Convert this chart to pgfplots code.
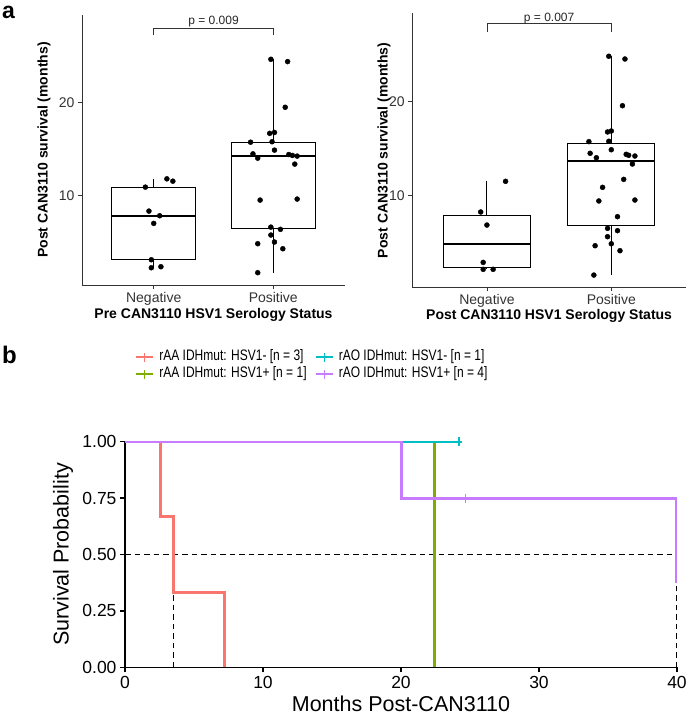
\documentclass[border=0pt]{standalone}
\usepackage{fontspec}
\setmainfont{Liberation Sans}
\newfontfamily\narrowsans[FakeStretch=0.79]{Liberation Sans}
\usepackage{pgfplots}
\pgfplotsset{compat=1.18}
\usepgfplotslibrary{statistics}

\definecolor{kmred}{HTML}{F8766D}
\definecolor{kmgreen}{HTML}{7CAE00}
\definecolor{kmcyan}{HTML}{00BFC4}
\definecolor{kmpurple}{HTML}{C77CFF}
\newcommand{\fs}[1]{\fontsize{#1}{#1}\selectfont}

\pgfplotsset{
  boxpanel/.style={
    scale only axis, clip=false,
    xmin=0.4, xmax=2.6,
    xtick={1,2}, xticklabels={Negative,Positive},
    ytick={10,20},
    axis x line*=bottom, axis y line*=left,
    axis line style={black!80, line width=0.8pt, -},
    tick style={black!80, line width=0.8pt},
    tick align=outside, major tick length=4pt,
    ticklabel style={font=\fs{14}, text=black!80},
    /pgf/number format/assume math mode=true,
    label style={font=\bfseries\fs{14}},
    xlabel style={anchor=base},
    ylabel style={anchor=center},
  },
  gbox/.style={black, line width=0.9pt, fill=white,
    boxplot prepared={#1, draw direction=y, box extend=0.7, whisker extend=0,
      every median/.style={line width=2.2pt}}},
  jit/.style={only marks, mark=*, mark size=2.5pt, black},
  med/.style={forget plot, black, line width=1.2pt, dash pattern=on 5.5pt off 4pt},
  km/.style={forget plot, const plot, line width=3pt},
  cens/.style={forget plot, only marks, mark=|, mark size=4.5pt, mark options={line width=1.3pt}},
}

\begin{document}
\begin{tikzpicture}
\useasboundingbox (0,0) rectangle (690pt,716pt);

% panel labels
\node[anchor=base west, inner sep=0pt, font=\bfseries\fs{23}] at (2pt,697.7pt) {a};
\node[anchor=base west, inner sep=0pt, font=\bfseries\fs{24}] at (2pt,352pt) {b};

% ---- a, left
\begin{axis}[boxpanel,
  at={(82pt,431pt)}, anchor=south west, width=263pt, height=270pt,
  ymin=0.43, ymax=29.4,
  xlabel={Pre CAN3110 HSV1 Serology Status},
  ylabel={Post CAN3110 survival (months)},
  xlabel style={at={(axis description cs:0.5,-0.123)}},
  ylabel style={at={(axis description cs:-0.1445,0.5)}},
]
\addplot[gbox={draw position=1, lower whisker=2.28, lower quartile=3.14,
  median=7.86, upper quartile=10.93, upper whisker=11.82}] coordinates {};
\addplot[gbox={draw position=2, lower whisker=1.75, lower quartile=6.54,
  median=14.26, upper quartile=15.75, upper whisker=24.65}] coordinates {};
\addplot[jit] coordinates {
  (0.93,10.93) (0.96,8.36) (1.05,7.86) (1.00,7.04) (1.11,11.82)
  (1.16,11.57) (0.98,3.14) (0.98,2.28) (1.06,2.39)};
\addplot[jit] coordinates {
  (1.98,24.65) (2.12,24.40) (2.10,19.50) (1.97,16.70) (2.01,16.80)
  (1.81,15.75) (1.99,15.80) (1.83,14.50) (1.87,14.04) (2.01,14.90)
  (2.13,14.43) (2.16,14.33) (2.20,14.26) (2.18,13.40) (1.89,9.54)
  (2.20,9.65) (1.98,6.64) (2.06,6.40) (1.98,5.79) (1.87,4.86)
  (2.01,5.04) (2.08,4.32) (1.87,1.75)};
\addplot[black!80, line width=0.7pt] coordinates {(1,27.3) (1,28.0) (2,28.0) (2,27.3)};
\node[anchor=base, inner sep=0pt, font=\fs{12}, text=black!85] at (axis cs:1.5,28.4) {p = 0.009};
\end{axis}

% ---- a, right
\begin{axis}[boxpanel,
  at={(412.3pt,428.7pt)}, anchor=south west, width=273.6pt, height=274pt,
  ymin=0.26, ymax=29.4,
  xlabel={Post CAN3110 HSV1 Serology Status},
  ylabel={Post CAN3110 survival (months)},
  xlabel style={at={(axis description cs:0.5,-0.119)}},
  ylabel style={at={(axis description cs:-0.103,0.5)}},
]
\addplot[gbox={draw position=1, lower whisker=2.17, lower quartile=2.38,
  median=4.89, upper quartile=7.91, upper whisker=11.53}] coordinates {};
\addplot[gbox={draw position=2, lower whisker=1.56, lower quartile=6.85,
  median=13.69, upper quartile=15.53, upper whisker=24.83}] coordinates {};
\addplot[jit] coordinates {
  (1.15,11.53) (0.95,8.27) (1.00,6.88) (0.97,2.91) (0.97,2.17) (1.05,2.17)};
\addplot[jit] coordinates {
  (1.98,24.83) (2.11,24.54) (2.09,19.57) (1.97,16.78) (2.00,16.88)
  (1.82,15.75) (1.98,15.79) (1.83,14.51) (1.88,14.04) (2.00,14.89)
  (2.12,14.40) (2.14,14.30) (2.19,14.22) (2.17,13.37) (2.10,11.74)
  (1.93,10.89) (1.90,9.44) (2.19,9.54) (2.05,7.77) (1.97,6.53)
  (2.05,6.28) (1.97,5.64) (1.87,4.68) (2.00,4.89) (2.07,4.15) (1.86,1.56)};
\addplot[black!80, line width=0.7pt] coordinates {(1,27.4) (1,28.3) (2,28.3) (2,27.4)};
\node[anchor=base, inner sep=0pt, font=\fs{12}, text=black!85] at (axis cs:1.5,28.55) {p = 0.007};
\end{axis}

% ---- b, Kaplan-Meier
\begin{axis}[
  scale only axis,
  at={(125pt,48.7pt)}, anchor=south west, width=552pt, height=225.6pt,
  xmin=0, xmax=40, ymin=0, ymax=1,
  xtick={0,10,20,30,40}, ytick={0,0.25,0.5,0.75,1},
  axis x line*=bottom, axis y line*=left,
  axis line style={black, line width=1.6pt, -},
  tick style={black, line width=1.4pt},
  tick align=outside, major tick length=5pt,
  ticklabel style={font=\fs{17.5}},
  /pgf/number format/assume math mode=true,
  yticklabel style={/pgf/number format/.cd, fixed, fixed zerofill, precision=2},
  label style={font=\fs{21.5}},
  xlabel={Months Post-CAN3110}, ylabel={Survival Probability},
  xlabel style={anchor=base, at={(axis description cs:0.5,-0.197)}},
  ylabel style={anchor=center, at={(axis description cs:-0.1123,0.5)}},
  legend columns=2,
  legend cell align=left,
  legend image code/.code={
    \draw[#1, line width=2.2pt] (0pt,0pt) -- (17pt,0pt);
    \draw[#1, line width=1.3pt] (8.5pt,-4.5pt) -- (8.5pt,4.5pt);},
  legend style={draw=none, fill=none, inner sep=0pt,
    at={(axis description cs:0.018,1.413)}, anchor=north west,
    font=\narrowsans\fs{15.2}, row sep=0pt,
    nodes={inner xsep=5pt, inner ysep=1.25pt, text height=11pt, text depth=3.5pt},
    /tikz/every even column/.append style={column sep=3pt}},
]
\addlegendimage{kmred}\addlegendentry{rAA IDHmut: HSV1- [n = 3]}
\addlegendimage{kmcyan}\addlegendentry{rAO IDHmut: HSV1- [n = 1]}
\addlegendimage{kmgreen}\addlegendentry{rAA IDHmut: HSV1+ [n = 1]}
\addlegendimage{kmpurple}\addlegendentry{rAO IDHmut: HSV1+ [n = 4]}

% median lines
\addplot[med] coordinates {(0,0.5) (40,0.5)};
\addplot[med] coordinates {(3.53,0) (3.53,0.5)};
\addplot[med] coordinates {(22.4,0) (22.4,0.5)};
\addplot[med] coordinates {(40,0) (40,0.5)};

% survival curves
\addplot[km, kmred] coordinates {(0,1) (2.56,0.667) (3.53,0.333) (7.2,0)};
\addplot[km, kmgreen] coordinates {(0,1) (22.4,0)};
\addplot[km, kmcyan] coordinates {(0,1) (24.45,1)};
\addplot[cens, kmcyan] coordinates {(24.2,1)};
\addplot[km, kmpurple] coordinates {(0,1) (20.07,0.75) (40,0.375)};
\addplot[cens, kmpurple] coordinates {(24.65,0.75)};
\end{axis}
\end{tikzpicture}
\end{document}
